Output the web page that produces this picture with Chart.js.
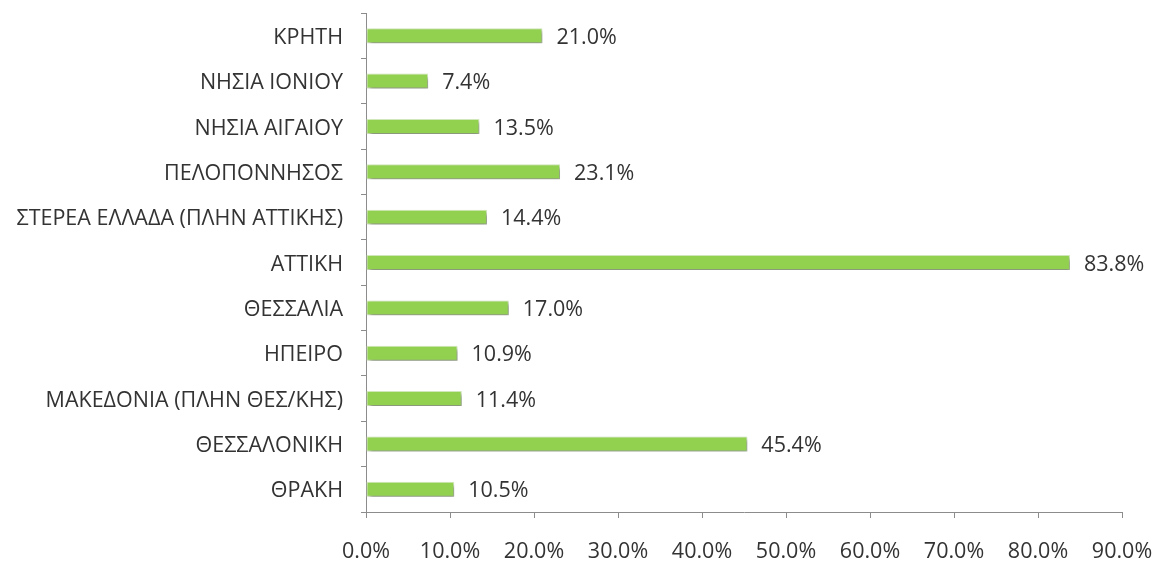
<!DOCTYPE html>
<html><head><meta charset="utf-8">
<script src="https://cdn.jsdelivr.net/npm/chart.js@4"></script>
<style>html,body{margin:0;padding:0;background:#fff}#wrap{width:1155px;height:562px;position:relative}</style>
</head><body><div id="wrap"><canvas id="c"></canvas></div>
<script>
const categories = ["ΚΡΗΤΗ","ΝΗΣΙΑ ΙΟΝΙΟΥ","ΝΗΣΙΑ ΑΙΓΑΙΟΥ","ΠΕΛΟΠΟΝΝΗΣΟΣ","ΣΤΕΡΕΑ ΕΛΛΑΔΑ (ΠΛΗΝ ΑΤΤΙΚΗΣ)","ΑΤΤΙΚΗ","ΘΕΣΣΑΛΙΑ","ΗΠΕΙΡΟ","ΜΑΚΕΔΟΝΙΑ (ΠΛΗΝ ΘΕΣ/ΚΗΣ)","ΘΕΣΣΑΛΟΝΙΚΗ","ΘΡΑΚΗ"];
const values = [21.0,7.4,13.5,23.1,14.4,83.8,17.0,10.9,11.4,45.4,10.5];
const xTicks = [0,10,20,30,40,50,60,70,80,90];

const FONT = "'Open Sans', sans-serif";
const FS = 21.5;
const shadowPlugin = {
  id:'shadow',
  beforeDatasetsDraw(chart){ const c=chart.ctx; c.save(); c.shadowColor='rgba(0,0,0,0.4)'; c.shadowBlur=4; c.shadowOffsetX=2; c.shadowOffsetY=3; },
  afterDatasetsDraw(chart){ chart.ctx.restore(); }
};
const labelPlugin = {
  id:'vlabels',
  afterDatasetsDraw(chart){
    const c=chart.ctx, meta=chart.getDatasetMeta(0);
    c.save(); c.font=FS+"px "+FONT; c.fillStyle='#333333'; c.textAlign='left'; c.textBaseline='middle';
    meta.data.forEach((b,i)=>{ c.fillText(values[i].toFixed(1)+'%', b.x+14, b.y+2); });
    c.restore();
  }
};
new Chart(document.getElementById('c'),{
  type:'bar',
  data:{labels:categories,datasets:[{data:values,backgroundColor:'#92D050',borderColor:'#D4ECBC',borderWidth:1,borderSkipped:false,barPercentage:0.66,categoryPercentage:0.5}]},
  options:{
    indexAxis:'y',responsive:true,maintainAspectRatio:false,animation:false,
    layout:{padding:{top:13,right:0,left:0,bottom:0}},
    plugins:{legend:{display:false},tooltip:{enabled:false}},
    scales:{
      x:{min:0,max:90,afterBuildTicks(s){s.ticks=xTicks.map(v=>({value:v}));},
        border:{color:'#8c8c8c',width:1},
        grid:{display:true,drawOnChartArea:false,drawTicks:true,tickLength:6,color:'#8c8c8c'},
        ticks:{padding:21,color:'#333333',font:{family:FONT,size:FS},callback:v=>v.toFixed(1)+'%',maxRotation:0,autoSkip:false},
        afterFit(s){s.height=50; s.paddingRight=33; s.paddingLeft=0;}},
      y:{border:{color:'#8c8c8c',width:1},
        grid:{display:true,offset:true,drawOnChartArea:false,drawTicks:true,tickLength:5,color:'#8c8c8c'},
        ticks:{padding:18,labelOffset:2,color:'#333333',font:{family:FONT,size:FS},autoSkip:false},
        afterFit(s){s.width=366; s.paddingTop=0; s.paddingBottom=0;}}
    }
  },
  plugins:[shadowPlugin,labelPlugin]
});
</script></body></html>
